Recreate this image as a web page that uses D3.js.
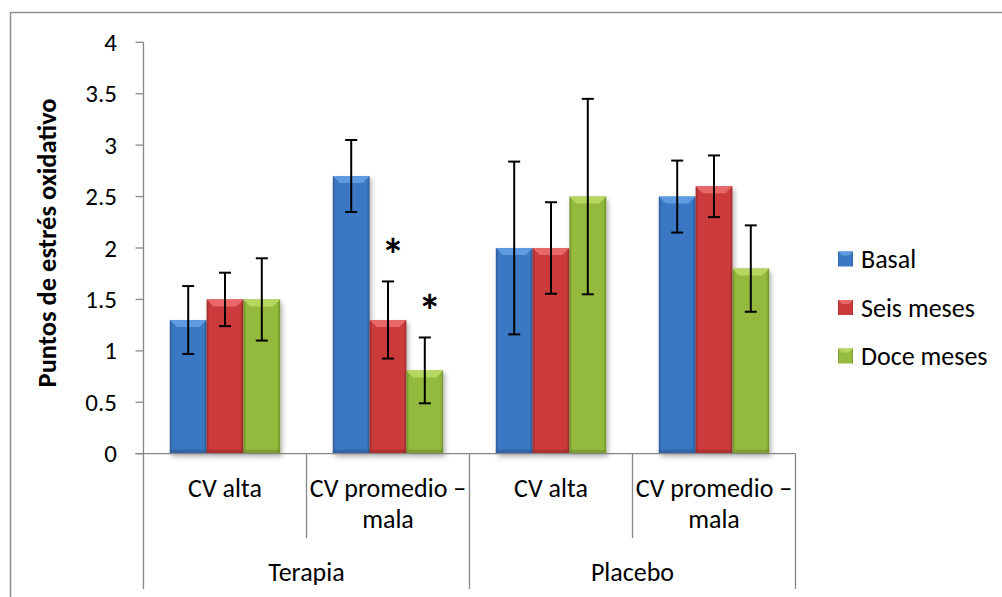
<!DOCTYPE html>
<html>
<head>
<meta charset="utf-8">
<script src="https://cdn.jsdelivr.net/npm/d3@7"></script>
<style>
  body { margin: 0; background: #fff; }
  text { font-family: Carlito, Calibri, Lato, "Open Sans", sans-serif; fill: #000; }
</style>
</head>
<body>
<div id="chart"></div>
<script>
// Data
const groups = ["Terapia", "Placebo"];
const subCategories = ["CV alta", "CV promedio – mala"];
const seriesNames = ["Basal", "Seis meses", "Doce meses"];
const basal = [1.3, 2.7, 2.0, 2.5];
const seisMeses = [1.5, 1.3, 2.0, 2.6];
const doceMeses = [1.5, 0.81, 2.5, 1.8];
const basalErr = [0.33, 0.35, 0.84, 0.35];
const seisErr = [0.26, 0.375, 0.445, 0.3];
const doceErr = [0.4, 0.32, 0.95, 0.42];
const yTicks = [0, 0.5, 1, 1.5, 2, 2.5, 3, 3.5, 4];
// significance marks: category index, series
const sigMarks = [{ cat: 1, series: "Seis meses" }, { cat: 1, series: "Doce meses" }];

const width = 1002, height = 597;
const plot = { left: 143.5, right: 795.5, top: 42.3, bottom: 453.7 };
const tickFont = "25px";
const labelFont = "26px";

const svg = d3.select("#chart").append("svg")
    .attr("width", width)
    .attr("height", height);

const defs = svg.append("defs");
const colors = {
    "Basal": { base: "#3b78c3", light: "#5f9be0", dark: "#2a5a98" },
    "Seis meses": { base: "#cc3b3b", light: "#e8686a", dark: "#9c2a2b" },
    "Doce meses": { base: "#94ba3e", light: "#b6d75f", dark: "#6f8f2b" }
};
seriesNames.forEach((s, i) => {
    const g = defs.append("linearGradient").attr("id", "grad" + i)
        .attr("x1", "0").attr("x2", "1").attr("y1", "0").attr("y2", "0");
    g.append("stop").attr("offset", "0").attr("stop-color", colors[s].dark);
    g.append("stop").attr("offset", "0.08").attr("stop-color", colors[s].base);
    g.append("stop").attr("offset", "0.92").attr("stop-color", colors[s].base);
    g.append("stop").attr("offset", "1").attr("stop-color", colors[s].dark);
});
const shadow = defs.append("filter").attr("id", "shadow")
    .attr("x", "-20%").attr("y", "-5%").attr("width", "150%").attr("height", "115%");
shadow.append("feDropShadow").attr("dx", 2).attr("dy", 3).attr("stdDeviation", 2.5)
    .attr("flood-color", "#000").attr("flood-opacity", 0.3);

// Outer border
svg.append("rect")
    .attr("x", 10.5).attr("y", 12.5)
    .attr("width", 1010).attr("height", 620)
    .attr("fill", "none").attr("stroke", "#8e8e8e").attr("stroke-width", 1.5);

// Scales
const catKeys = [];
groups.forEach(g => subCategories.forEach(c => catKeys.push(g + "|" + c)));

const x0 = d3.scaleBand().domain(catKeys).range([plot.left, plot.right]).padding(0);
const x1 = d3.scaleBand().domain(seriesNames).range([0, x0.bandwidth()])
    .paddingInner(0).paddingOuter(0.715);
const y = d3.scaleLinear().domain([0, 4]).range([plot.bottom, plot.top]);

const values = { "Basal": basal, "Seis meses": seisMeses, "Doce meses": doceMeses };
const errors = { "Basal": basalErr, "Seis meses": seisErr, "Doce meses": doceErr };

const barData = [];
catKeys.forEach((k, ci) => {
    seriesNames.forEach((s, si) => {
        barData.push({ key: k, ci, series: s, si, value: values[s][ci], err: errors[s][ci] });
    });
});

// Y axis
const axisColor = "#868686";
const yAxis = svg.append("g");
yAxis.append("line")
    .attr("x1", plot.left).attr("x2", plot.left)
    .attr("y1", y(4)).attr("y2", 589)
    .attr("stroke", axisColor).attr("stroke-width", 1.3);
yAxis.selectAll(".tick").data(yTicks).enter().append("line")
    .attr("x1", plot.left - 8).attr("x2", plot.left)
    .attr("y1", d => y(d)).attr("y2", d => y(d))
    .attr("stroke", axisColor).attr("stroke-width", 1.3);
yAxis.selectAll(".lbl").data(yTicks).enter().append("text")
    .attr("x", 117).attr("y", d => y(d))
    .attr("text-anchor", "end").attr("dominant-baseline", "central")
    .style("font-size", tickFont)
    .text(d => d);

svg.append("text")
    .attr("transform", "translate(47," + 243 + ") rotate(-90)")
    .attr("text-anchor", "middle").attr("dominant-baseline", "central")
    .style("font-size", "26.5px").style("font-weight", "bold")
    .text("Puntos de estrés oxidativo");

// Bars
const bars = svg.append("g").selectAll("g").data(barData).enter().append("g");
const bw = x1.bandwidth();
bars.append("rect")
    .attr("x", d => x0(d.key) + x1(d.series))
    .attr("y", d => y(d.value))
    .attr("width", bw)
    .attr("height", d => y(0) - y(d.value))
    .attr("fill", d => "url(#grad" + d.si + ")")
    .attr("filter", "url(#shadow)");
// top bevel
bars.append("path")
    .attr("d", d => {
        const bx = x0(d.key) + x1(d.series), by = y(d.value);
        return `M${bx},${by}H${bx + bw}L${bx + bw - 7},${by + 7}H${bx + 7}Z`;
    })
    .attr("fill", d => colors[d.series].light);
// bottom shade
bars.append("rect")
    .attr("x", d => x0(d.key) + x1(d.series))
    .attr("y", y(0) - 4)
    .attr("width", bw).attr("height", 4)
    .attr("fill", d => colors[d.series].dark).attr("opacity", 0.6);

// Error bars
const errG = svg.append("g").selectAll("g").data(barData).enter().append("g")
    .attr("stroke", "#000").attr("stroke-width", 2);
const cx = d => x0(d.key) + x1(d.series) + bw / 2;
errG.append("line")
    .attr("x1", cx).attr("x2", cx)
    .attr("y1", d => y(d.value + d.err)).attr("y2", d => y(d.value - d.err));
errG.append("line")
    .attr("x1", d => cx(d) - 6).attr("x2", d => cx(d) + 6)
    .attr("y1", d => y(d.value + d.err)).attr("y2", d => y(d.value + d.err));
errG.append("line")
    .attr("x1", d => cx(d) - 6).attr("x2", d => cx(d) + 6)
    .attr("y1", d => y(d.value - d.err)).attr("y2", d => y(d.value - d.err));

// Significance asterisks
svg.append("g").selectAll("text").data(sigMarks).enter().append("text")
    .attr("x", d => x0(catKeys[d.cat]) + x1(d.series) + bw / 2 + 5)
    .attr("y", d => y(values[d.series][d.cat] + errors[d.series][d.cat]) - 10)
    .attr("text-anchor", "middle")
    .style("font-size", "46px").style("font-weight", "bold")
    .text("*");

// X axis (multi-level)
svg.append("line")
    .attr("x1", plot.left - 8).attr("x2", plot.right)
    .attr("y1", y(0)).attr("y2", y(0))
    .attr("stroke", axisColor).attr("stroke-width", 1.3);
catKeys.forEach((k, i) => {
    const isGroupEdge = i % subCategories.length === 0;
    if (i > 0) {
        svg.append("line")
            .attr("x1", x0(k)).attr("x2", x0(k))
            .attr("y1", y(0)).attr("y2", isGroupEdge ? 589 : 538)
            .attr("stroke", axisColor).attr("stroke-width", 1.3);
    }
});
svg.append("line")
    .attr("x1", plot.right).attr("x2", plot.right)
    .attr("y1", y(0)).attr("y2", 589)
    .attr("stroke", axisColor).attr("stroke-width", 1.3);

catKeys.forEach(k => {
    const label = k.split("|")[1];
    const mid = x0(k) + x0.bandwidth() / 2;
    const t = svg.append("text").attr("text-anchor", "middle").style("font-size", labelFont);
    if (label.includes("–")) {
        t.append("tspan").attr("x", mid).attr("y", 497).text("CV promedio –");
        t.append("tspan").attr("x", mid).attr("y", 528).text("mala");
    } else {
        t.attr("x", mid).attr("y", 497).text(label);
    }
});
groups.forEach(g => {
    const first = x0(g + "|" + subCategories[0]);
    const mid = first + x0.bandwidth() * subCategories.length / 2;
    svg.append("text")
        .attr("x", mid).attr("y", 581)
        .attr("text-anchor", "middle").style("font-size", labelFont)
        .text(g);
});

// Legend
const legend = svg.append("g").selectAll("g").data(seriesNames).enter().append("g")
    .attr("transform", (d, i) => `translate(838,${259 + i * 48.5})`);
legend.append("rect")
    .attr("x", 0).attr("y", -7.5).attr("width", 15).attr("height", 15)
    .attr("fill", (d, i) => "url(#grad" + i + ")");
legend.append("path")
    .attr("d", "M0,-7.5H15L11,-3.5H4Z")
    .attr("fill", d => colors[d].light);
legend.append("text")
    .attr("x", 23).attr("y", 0)
    .attr("dominant-baseline", "central")
    .style("font-size", labelFont)
    .text(d => d);
</script>
</body>
</html>
